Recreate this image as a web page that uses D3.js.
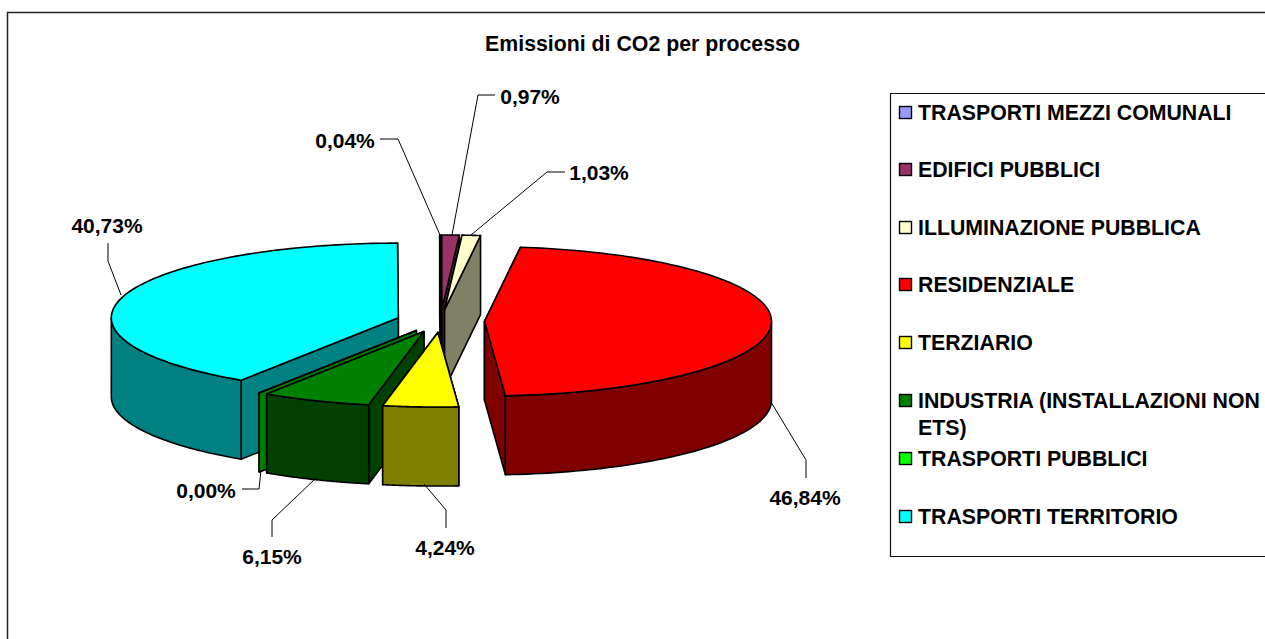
<!DOCTYPE html>
<html>
<head>
<meta charset="utf-8">
<script src="https://cdn.jsdelivr.net/npm/d3@7"></script>
<style>
html, body { margin: 0; padding: 0; background: #fff; overflow: hidden; }
svg { display: block; }
text { font-family: "Liberation Sans", Arial, sans-serif; font-weight: bold; fill: #000; }
</style>
</head>
<body>
<svg id="chart" width="1265" height="639"></svg>
<script>
const title = 'Emissioni di CO2 per processo';
const categories = ['TRASPORTI MEZZI COMUNALI', 'EDIFICI PUBBLICI', 'ILLUMINAZIONE PUBBLICA', 'RESIDENZIALE',
    'TERZIARIO', 'INDUSTRIA (INSTALLAZIONI NON ETS)', 'TRASPORTI PUBBLICI', 'TRASPORTI TERRITORIO'];
const shares = [0.04, 0.97, 1.03, 46.84, 4.24, 6.15, 0.00, 40.73];
const colors = ['#9999ff', '#993366', '#ffffcc', '#ff0000', '#ffff00', '#008000', '#00ff00', '#00ffff'];

// label anchor + leader line, same order as categories
const labelPos = [[345, 148], [530, 104], [599, 180], [805, 505], [445, 555], [272, 564], [206, 498], [107, 233]];
const leaders = [
    [[440, 235], [398, 139], [380, 139]],
    [[452, 235], [478, 95], [495, 95]],
    [[471, 235], [547, 172], [565, 172]],
    [[771, 402], [806, 460], [806, 478]],
    [[424, 484], [446, 510], [446, 528]],
    [[316, 478], [272, 520], [272, 537]],
    [[261, 470], [259, 489], [242, 489]],
    [[121, 295], [108, 261], [108, 243]]
];

const cx = 440.5, cy = 321;
const radius = 287, tilt = 0.26, depth = 79, explode = 44;
const rotation = -0.15 * Math.PI / 180;

const svg = d3.select('#chart');
const fmt = v => v.toFixed(2).replace('.', ',') + '%';

// chart frame, only left and top show in the crop
svg.append('path')
    .attr('d', 'M7.5,639V12.5H1265')
    .style('fill', 'none').style('stroke', '#222').style('stroke-width', 1.5);

svg.append('text')
    .attr('x', 642.5).attr('y', 51)
    .attr('text-anchor', 'middle')
    .style('font-size', '21.3px')
    .text(title);

const arcs = d3.pie().sort(null).startAngle(rotation).endAngle(rotation + 2 * Math.PI)(shares);

const pt = (o, a, r, dz = 0) => [o[0] + r * Math.sin(a), o[1] - tilt * r * Math.cos(a) + dz];
const line = d3.line();

function drawSlice(d) {
    const mid = (d.startAngle + d.endAngle) / 2;
    const o = pt([cx, cy], mid, explode);
    const c = d3.color(colors[d.index]);
    const dark = d3.rgb(c.r / 2, c.g / 2, c.b / 2).formatHex();
    const g = svg.append('g').attr('class', 'slice')
        .style('stroke', '#000').style('stroke-width', 1.6).style('stroke-linejoin', 'round');

    const wall = a => [pt(o, a, 0), pt(o, a, radius), pt(o, a, radius, depth), pt(o, a, 0, depth)];
    // the wall further back goes first
    [d.startAngle, d.endAngle]
        .sort((a, b) => Math.cos(b) - Math.cos(a))
        .forEach(a => {
            g.append('path').attr('d', line(wall(a)) + 'Z').style('fill', dark);
        });

    // outer rim, only the front half of the ellipse shows
    const a0 = Math.max(d.startAngle, Math.PI / 2), a1 = Math.min(d.endAngle, 3 * Math.PI / 2);
    if (a1 > a0) {
        const steps = d3.range(0, 61).map(i => a0 + (a1 - a0) * i / 60);
        const rim = steps.map(a => pt(o, a, radius)).concat(steps.slice().reverse().map(a => pt(o, a, radius, depth)));
        g.append('path').attr('d', line(rim) + 'Z').style('fill', dark);
    }

    const topSteps = d3.range(0, 121).map(i => d.startAngle + (d.endAngle - d.startAngle) * i / 120);
    const top = [pt(o, 0, 0)].concat(topSteps.map(a => pt(o, a, radius)));
    g.append('path').attr('d', line(top) + 'Z').style('fill', colors[d.index]);
}

// back slices first
arcs.slice()
    .sort((a, b) => Math.cos((b.startAngle + b.endAngle) / 2) - Math.cos((a.startAngle + a.endAngle) / 2))
    .forEach(drawSlice);

// leaders and value labels
svg.append('g').selectAll('path')
    .data(leaders)
    .join('path')
    .attr('d', d => line(d))
    .style('fill', 'none').style('stroke', '#000').style('stroke-width', 1);

svg.append('g').selectAll('text')
    .data(shares)
    .join('text')
    .attr('x', (d, i) => labelPos[i][0])
    .attr('y', (d, i) => labelPos[i][1])
    .attr('text-anchor', 'middle')
    .style('font-size', '21px')
    .text(d => fmt(d));

// legend
svg.append('path')
    .attr('d', 'M1265,93.5H890.5V556.5H1265')
    .style('fill', 'none').style('stroke', '#111').style('stroke-width', 1.2);

const legendY = [113, 170, 228, 285, 343, 401, 459, 517];
const legendLines = [[categories[0]], [categories[1]], [categories[2]], [categories[3]], [categories[4]],
    ['INDUSTRIA (INSTALLAZIONI NON', 'ETS)'], [categories[6]], [categories[7]]];

const legend = svg.append('g').selectAll('g')
    .data(categories)
    .join('g')
    .attr('transform', (d, i) => `translate(899,${legendY[i]})`);

legend.append('rect')
    .attr('x', 0.5).attr('y', -6.5).attr('width', 12).attr('height', 12)
    .style('fill', (d, i) => colors[i])
    .style('stroke', '#000').style('stroke-width', 1.4);

legend.each(function (d, i) {
    d3.select(this).selectAll('text')
        .data(legendLines[i])
        .join('text')
        .attr('x', 19)
        .attr('y', (t, j) => 7 + j * 27)
        .style('font-size', '21.3px')
        .text(t => t);
});
</script>
</body>
</html>
